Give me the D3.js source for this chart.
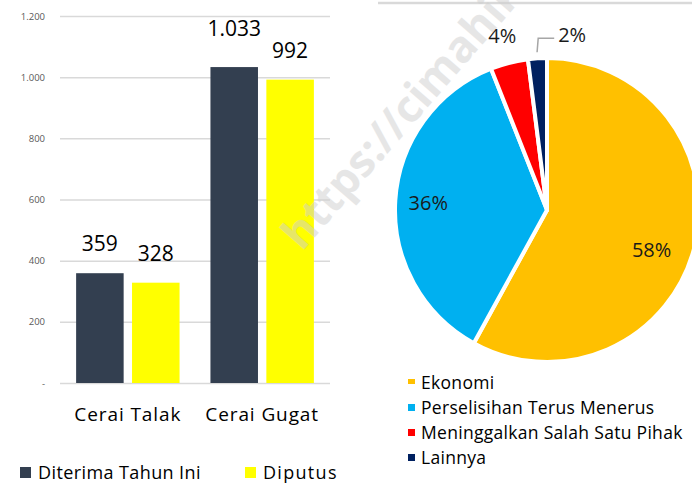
<!DOCTYPE html>
<html><head><meta charset="utf-8">
<script src="https://cdn.jsdelivr.net/npm/d3@7"></script>
<style>body{margin:0;background:#fff}svg{display:block}text{font-family:"Open Sans",sans-serif}</style>
</head><body><svg id="c" width="692" height="490"></svg>
<script>
const categories = ["Cerai Talak", "Cerai Gugat"];
const seriesNames = ["Diterima Tahun Ini", "Diputus"];
const diterima = [359, 1033];
const diputus = [328, 992];
const yTicks = [0, 200, 400, 600, 800, 1000, 1200];
const pieLabels = ["Ekonomi", "Perselisihan Terus Menerus", "Meninggalkan Salah Satu Pihak", "Lainnya"];
const pieValues = [58, 36, 4, 2];

const barColors = ["#333f50", "#ffff00"];
const pieColors = ["#ffc000", "#00b0f0", "#ff0000", "#002060"];
const fmt = v => v === 0 ? "-" : d3.format(",")(v).replace(/,/g, ".");

const svg = d3.select("#c");

// top grey line (edge of panel above)
svg.append("line").attr("x1", 378).attr("x2", 692).attr("y1", 3).attr("y2", 3)
  .attr("stroke", "#d9d9d9").attr("stroke-width", 2.5);

// ---------- Bar chart ----------
const y = d3.scaleLinear().domain([0, 1200]).range([383, 16]);
const x0 = d3.scaleBand().domain(categories).range([60, 330]).paddingInner(0.23).paddingOuter(0.12);
const x1 = d3.scaleBand().domain(seriesNames).range([0, x0.bandwidth()]).paddingInner(0.15);

const yAxis = d3.axisLeft(y).tickValues(yTicks).tickSize(-270).tickFormat(fmt);
const gy = svg.append("g").attr("transform", "translate(60,0)").call(yAxis);
gy.select(".domain").remove();
gy.selectAll(".tick line").attr("stroke", "#d9d9d9").attr("stroke-width", 1.5);
gy.selectAll(".tick text").attr("x", -15).attr("fill", "#595959").style("font-size", "9.5px");

const rows = categories.map((c, i) => ({cat: c, vals: [diterima[i], diputus[i]]}));
const groups = svg.selectAll("g.grp").data(rows).join("g").attr("class", "grp")
  .attr("transform", d => `translate(${x0(d.cat)},0)`);
groups.selectAll("rect").data(d => d.vals.map((v, j) => ({v, s: seriesNames[j], j})))
  .join("rect")
  .attr("x", d => x1(d.s)).attr("width", x1.bandwidth())
  .attr("y", d => y(d.v)).attr("height", d => y(0) - y(d.v))
  .attr("fill", d => barColors[d.j]);
groups.selectAll("text.val").data(d => d.vals.map((v, j) => ({v, s: seriesNames[j], j})))
  .join("text").attr("class", "val")
  .attr("x", d => x1(d.s) + x1.bandwidth() / 2)
  .attr("y", d => y(d.v) - 22)
  .attr("text-anchor", "middle").attr("fill", "#000").style("font-size", "21px")
  .text(d => fmt(d.v))
  .each(function(d) {
    if (this.getComputedTextLength() > x1.bandwidth()) d3.select(this).attr("y", y(d.v) - 31);
  });

svg.selectAll("text.cat").data(categories).join("text").attr("class", "cat")
  .attr("x", d => x0(d) + x0.bandwidth() / 2).attr("y", 421)
  .attr("text-anchor", "middle").style("font-size", "19px").attr("fill", "#000")
  .style("letter-spacing", "0.9px")
  .text(d => d);

// bar legend
const legX = [20, 245];
seriesNames.forEach((s, i) => {
  svg.append("rect").attr("x", legX[i]).attr("y", 467).attr("width", 11).attr("height", 11).attr("fill", barColors[i]);
  svg.append("text").attr("x", legX[i] + 18).attr("y", 479).style("font-size", "18px")
    .style("letter-spacing", i === 1 ? "1.3px" : "0.4px").attr("fill", "#000").text(s);
});

// ---------- Pie chart ----------
const cx = 547, cy = 210, R = 152;
const pie = d3.pie().sort(null).value(d => d)(pieValues);
const arc = d3.arc().innerRadius(0).outerRadius(R);
const gp = svg.append("g").attr("transform", `translate(${cx},${cy})`);
gp.selectAll("path").data(pie).join("path")
  .attr("d", arc).attr("fill", (d, i) => pieColors[i])
  .attr("stroke", "#fff").attr("stroke-width", 4).attr("stroke-linejoin", "round");

const dir = a => [Math.sin(a), -Math.cos(a)];
pie.forEach((d, i) => {
  const m = (d.startAngle + d.endAngle) / 2;
  const [dx, dy] = dir(m);
  if (i < 2) {
    const r = i === 0 ? 108 : 119;
    gp.append("text").attr("x", dx * r).attr("y", dy * r + 7 + (i === 0 ? 13 : 0)).attr("text-anchor", "middle")
      .style("font-size", "20px").attr("fill", "#1a1a1a").text(d.value + "%");
  } else if (i === 2) {
    gp.append("text").attr("x", dx * 180).attr("y", dy * 180 + 7).attr("text-anchor", "middle")
      .style("font-size", "20px").attr("fill", "#1a1a1a").text(d.value + "%");
  } else {
    const p0 = [dx * 158, dy * 158];
    const p1 = [dx * 172 + 2, dy * 172];
    const p2 = [p1[0] + 16, p1[1]];
    gp.append("polyline").attr("points", [p0, p1, p2].map(p => p.join(",")).join(" "))
      .attr("fill", "none").attr("stroke", "#a6a6a6").attr("stroke-width", 1.5);
    gp.append("text").attr("x", p2[0] + 4).attr("y", p2[1] + 4)
      .style("font-size", "20px").attr("fill", "#1a1a1a").text(d.value + "%");
  }
});

// pie legend
pieLabels.forEach((l, i) => {
  const yy = 383 + i * 25;
  svg.append("rect").attr("x", 408).attr("y", yy - 4).attr("width", 7).attr("height", i === 0 ? 5 : 7)
    .attr("fill", pieColors[i]);
  svg.append("text").attr("x", 421).attr("y", yy + 6).style("font-size", "17.5px")
    .style("letter-spacing", "0.3px").attr("fill", "#000").text(l);
});

// watermark
svg.append("text").attr("transform", "translate(302,252) rotate(-49)")
  .style("font-size", "44px").style("font-weight", "bold").attr("fill", "#cfcfcf").attr("opacity", 0.5)
  .text("https://cimahikota");
</script></body></html>
